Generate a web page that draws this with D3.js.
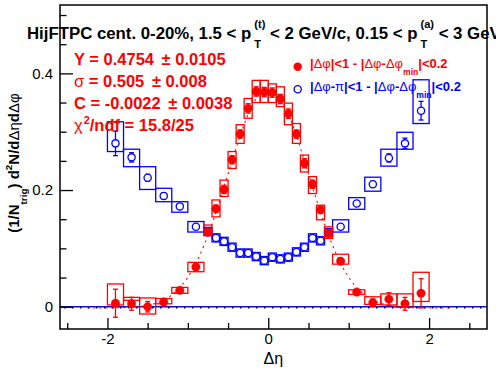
<!DOCTYPE html>
<html>
<head>
<meta charset="utf-8">
<script src="https://cdn.jsdelivr.net/npm/d3@7"></script>
<style>
  body { margin: 0; background: #fff; }
  svg { display: block; font-family: "Liberation Sans", Arial, Helvetica, sans-serif; }
  text { white-space: pre; }
</style>
</head>
<body>
<svg id="chart"></svg>
<script>
// 分箱边界 (Δη)
const binEdges = [-2.0, -1.8, -1.6, -1.4, -1.2, -1.0, -0.8, -0.7, -0.6, -0.5, -0.4, -0.3, -0.2, -0.1, 0.0,
    0.1, 0.2, 0.3, 0.4, 0.5, 0.6, 0.7, 0.8, 1.0, 1.2, 1.4, 1.6, 1.8, 2.0];

// 近侧 |Δφ|<1
const nearVal = [0.006, 0.005, 0.000, 0.008, 0.028, 0.068, 0.128, 0.168, 0.201, 0.252, 0.296, 0.340, 0.369, 0.368,
    0.367, 0.356, 0.331, 0.296, 0.246, 0.210, 0.166, 0.126, 0.078, 0.025, 0.007, 0.013, 0.005, 0.023];
const nearErr = [0.024, 0.011, 0.009, 0.006, 0.005, 0.005, 0.006, 0.006, 0.007, 0.007, 0.007, 0.008, 0.008, 0.008,
    0.008, 0.008, 0.008, 0.007, 0.008, 0.007, 0.006, 0.006, 0.005, 0.005, 0.006, 0.011, 0.011, 0.025];
const nearSysHi = [0.039, 0.016, 0.015, 0.014, 0.033, 0.076, 0.140, 0.183, 0.217, 0.266, 0.312, 0.357, 0.388, 0.388,
    0.382, 0.377, 0.349, 0.314, 0.260, 0.223, 0.174, 0.137, 0.090, 0.029, 0.017, 0.022, 0.022, 0.059];
const nearSysLo = [0.003, 0.011, -0.0125, 0.005, 0.023, 0.060, 0.122, 0.154, 0.189, 0.237, 0.280, 0.323, 0.350, 0.350,
    0.350, 0.343, 0.312, 0.280, 0.231, 0.194, 0.149, 0.117, 0.073, 0.021, 0.004, 0.003, -0.001, 0.009];

// 远侧 |Δφ-π|<1
const awayVal = [0.280, 0.256, 0.221, 0.190, 0.172, 0.137, 0.129, 0.118, 0.112, 0.102, 0.092, 0.092, 0.086, 0.079,
    0.085, 0.082, 0.085, 0.094, 0.102, 0.118, 0.113, 0.127, 0.137, 0.177, 0.210, 0.255, 0.280, 0.336];
const awayErr = [0.021, 0.008, 0.006, 0.005, 0.004, 0.004, 0.003, 0.003, 0.003, 0.003, 0.003, 0.003, 0.003, 0.003,
    0.003, 0.003, 0.003, 0.003, 0.003, 0.003, 0.003, 0.003, 0.004, 0.004, 0.005, 0.007, 0.009, 0.016];
const awaySysHi = [0.317, 0.270, 0.240, 0.203, 0.180, 0.146, 0.136, 0.125, 0.119, 0.109, 0.099, 0.099, 0.093, 0.086,
    0.092, 0.089, 0.092, 0.101, 0.109, 0.125, 0.120, 0.134, 0.149, 0.187, 0.222, 0.270, 0.299, 0.389];
const awaySysLo = [0.266, 0.240, 0.201, 0.180, 0.162, 0.128, 0.122, 0.111, 0.105, 0.095, 0.085, 0.085, 0.079, 0.072,
    0.078, 0.075, 0.078, 0.087, 0.095, 0.111, 0.106, 0.120, 0.128, 0.167, 0.198, 0.241, 0.270, 0.314];

// 拟合参数 (高斯 + 常数)
const fitYield = 0.4754, fitSigma = 0.505, fitConst = -0.0022;
const fitRange = [-2.25, 2.25];

// 刻度
const xTicks = [-2, 0, 2];
const xTickLabels = ["-2", "0", "2"];
const xMinorTicks = [-2.5, -1.5, -1, -0.5, 0.5, 1, 1.5, 2.5];
const yTicks = [0, 0.2, 0.4];
const yTickLabels = ["0", "0.2", "0.4"];
const yMinorTicks = [0.05, 0.1, 0.15, 0.25, 0.3, 0.35, 0.45, 0.5];

const red = "#ff0000", blue = "#0000ff";

// 配置
const margin = { top: 5, right: 9, bottom: 45, left: 60 };
const width = 496 - margin.left - margin.right;
const height = 374 - margin.top - margin.bottom;

// 比例尺
const x = d3.scaleLinear().domain([-2.59, 2.72]).range([0, width]);
const y = d3.scaleLinear().domain([-0.0382, 0.5172]).range([height, 0]);

const svg = d3.select("#chart")
    .attr("width", 496)
    .attr("height", 374);

const g = svg.append("g")
    .attr("transform", "translate(" + margin.left + "," + margin.top + ")");

// 带上下标的文字
function richText(parent, x0, y0, parts, size, color) {
    const grp = parent.append("g");
    let cx = x0;
    parts.forEach(function (p) {
        if (p.gap) { cx += p.gap; }
        if (p.t !== undefined) {
            const el = grp.append("text")
                .attr("x", cx).attr("y", y0)
                .attr("fill", color)
                .style("font-size", size + "px")
                .style("font-weight", p.normal ? "normal" : "bold")
                .text(p.t);
            cx += el.node().getComputedTextLength();
        } else {
            let w = 0;
            if (p.sup) {
                const s = grp.append("text")
                    .attr("x", cx).attr("y", y0 - size * (p.sub ? 0.68 : 0.45))
                    .attr("fill", color)
                    .style("font-size", (size * 0.66) + "px")
                    .style("font-weight", "bold")
                    .text(p.sup);
                w = Math.max(w, s.node().getComputedTextLength());
            }
            if (p.sub) {
                const s = grp.append("text")
                    .attr("x", cx).attr("y", y0 + size * 0.55)
                    .attr("fill", color)
                    .style("font-size", (size * 0.66) + "px")
                    .style("font-weight", "bold")
                    .text(p.sub);
                w = Math.max(w, s.node().getComputedTextLength());
            }
            cx += w;
        }
    });
    return { g: grp, w: cx - x0 };
}

const bins = nearVal.map(function (d, i) {
    return { x0: binEdges[i], x1: binEdges[i + 1], c: (binEdges[i] + binEdges[i + 1]) / 2 };
});

// 零线
g.append("line")
    .attr("x1", 0).attr("x2", width)
    .attr("y1", y(0)).attr("y2", y(0))
    .attr("stroke", "#1010c0").attr("stroke-width", 1.6);
g.append("line")
    .attr("x1", 4).attr("x2", width)
    .attr("y1", y(0) + 1).attr("y2", y(0) + 1)
    .attr("stroke", "#000066").attr("stroke-width", 1.5)
    .attr("stroke-dasharray", "1.5,6.5");

// 系统误差框
function sysBoxes(hi, lo, color) {
    g.append("g").selectAll("rect")
        .data(bins)
        .enter().append("rect")
        .attr("x", function (d) { return x(d.x0); })
        .attr("width", function (d) { return x(d.x1) - x(d.x0); })
        .attr("y", function (d, i) { return y(hi[i]); })
        .attr("height", function (d, i) { return y(lo[i]) - y(hi[i]); })
        .attr("fill", "none")
        .attr("stroke", color)
        .attr("stroke-width", 1.3);
}
sysBoxes(awaySysHi, awaySysLo, blue);
sysBoxes(nearSysHi, nearSysLo, red);

// 拟合曲线
const fitPts = d3.range(fitRange[0], fitRange[1] + 1e-9, 0.02).map(function (t) {
    return [t, fitConst + fitYield / (Math.sqrt(2 * Math.PI) * fitSigma) * Math.exp(-t * t / (2 * fitSigma * fitSigma))];
});
g.append("path")
    .datum(fitPts)
    .attr("fill", "none")
    .attr("stroke", red)
    .attr("stroke-width", 1.1)
    .attr("stroke-dasharray", "2,4")
    .attr("d", d3.line()
        .x(function (d) { return x(d[0]); })
        .y(function (d) { return y(d[1]); }));

// 误差棒 + 点
function points(vals, errs, color, filled) {
    const pg = g.append("g");
    bins.forEach(function (b, i) {
        const cx = x(b.c);
        const yt = y(vals[i] + errs[i]), yb = y(vals[i] - errs[i]);
        pg.append("line").attr("x1", cx).attr("x2", cx).attr("y1", yt).attr("y2", yb)
            .attr("stroke", color).attr("stroke-width", 1.3);
        [yt, yb].forEach(function (yy) {
            pg.append("line").attr("x1", cx - 2.5).attr("x2", cx + 2.5).attr("y1", yy).attr("y2", yy)
                .attr("stroke", color).attr("stroke-width", 1.3);
        });
    });
    pg.selectAll("circle")
        .data(bins)
        .enter().append("circle")
        .attr("cx", function (d) { return x(d.c); })
        .attr("cy", function (d, i) { return y(vals[i]); })
        .attr("r", filled ? 4.2 : 3.6)
        .attr("fill", filled ? color : "#fff")
        .attr("stroke", color)
        .attr("stroke-width", filled ? 0.5 : 1.3);
}
points(awayVal, awayErr, blue, false);
points(nearVal, nearErr, red, true);

// X轴
g.append("g")
    .attr("transform", "translate(0," + height + ")")
    .call(d3.axisBottom(x).tickValues(xMinorTicks).tickSize(-6).tickFormat(""))
    .call(function (a) { a.select(".domain").remove(); });
g.append("g")
    .attr("transform", "translate(0," + height + ")")
    .call(d3.axisBottom(x).tickValues(xTicks).tickSize(-11).tickPadding(4.5)
        .tickFormat(function (d, i) { return xTickLabels[i]; }))
    .call(function (a) {
        a.select(".domain").remove();
        a.selectAll("text").style("font-size", "15px").style("font-family", null).attr("fill", "#000");
    });

// Y轴
g.append("g")
    .call(d3.axisLeft(y).tickValues(yMinorTicks).tickSize(-6.5).tickFormat(""))
    .call(function (a) { a.select(".domain").remove(); });
g.append("g")
    .call(d3.axisLeft(y).tickValues(yTicks).tickSize(-13).tickPadding(7)
        .tickFormat(function (d, i) { return yTickLabels[i]; }))
    .call(function (a) {
        a.select(".domain").remove();
        a.selectAll("text").style("font-size", "15px").style("font-family", null).attr("fill", "#000");
    });
g.selectAll(".tick line").attr("stroke", "#000").attr("stroke-width", 1.3);

// 边框
g.append("rect")
    .attr("width", width).attr("height", height)
    .attr("fill", "none").attr("stroke", "#000").attr("stroke-width", 1.5);

// 拟合结果
const st = svg.append("g");
richText(st, 74, 65, [{ t: "Y = 0.4754 " }, { t: "±", gap: 3 }, { t: " 0.0105" }], 16.5, red);
richText(st, 74, 87, [{ t: "σ", normal: true }, { t: " = 0.505 " }, { t: "±", gap: 3 }, { t: " 0.008" }], 16.5, red);
richText(st, 74, 109, [{ t: "C = -0.0022 " }, { t: "±", gap: 3 }, { t: " 0.0038" }], 16.5, red);
richText(st, 74, 131, [{ t: "χ", normal: true }, { sup: "2", gap: 1 }, { t: "/ndf = 15.8/25" }], 16.5, red);

// 图例
svg.append("circle").attr("cx", 297.7).attr("cy", 66.7).attr("r", 4.2).attr("fill", red);
svg.append("circle").attr("cx", 297.7).attr("cy", 89.3).attr("r", 3.6)
    .attr("fill", "none").attr("stroke", blue).attr("stroke-width", 1.3);
richText(svg, 310, 68, [{ t: "|" }, { t: "Δφ", normal: true }, { t: "|<1 - |" }, { t: "Δφ", normal: true },
    { t: "-" }, { t: "Δφ", normal: true }, { sub: "min" }, { t: "|<0.2" }], 13, red);
richText(svg, 310, 91, [{ t: "|" }, { t: "Δφ", normal: true }, { t: "-" }, { t: "π", normal: true },
    { t: "|<1 - |" }, { t: "Δφ", normal: true }, { t: "-" }, { t: "Δφ", normal: true }, { sub: "min" },
    { t: "|<0.2" }], 13, blue);

// 标题
richText(svg, 27, 39, [{ t: "HijFTPC cent. 0-20%, 1.5 < p" }, { sup: "(t)", sub: "T", gap: 3 },
    { t: " < 2 GeV/c, 0.15 < p" }, { sup: "(a)", sub: "T", gap: 3 }, { t: " < 3 GeV/c" }], 16.8, "#000");

// 轴标题
svg.append("text")
    .attr("x", margin.left + x(0) + 5).attr("y", 364)
    .attr("text-anchor", "middle")
    .style("font-size", "16px")
    .text("Δη");

const yt = svg.append("g").attr("transform", "translate(19,163) rotate(-90)");
const ytRes = richText(yt, 0, 0, [{ t: "(1/N" }, { sub: "trig" }, { t: ") d" }, { sup: "2" }, { t: "N/d" },
    { t: "Δη", normal: true }, { t: "d" }, { t: "Δφ", normal: true }], 15, "#000");
ytRes.g.attr("transform", "translate(" + (-ytRes.w / 2) + ",0)");
</script>
</body>
</html>
